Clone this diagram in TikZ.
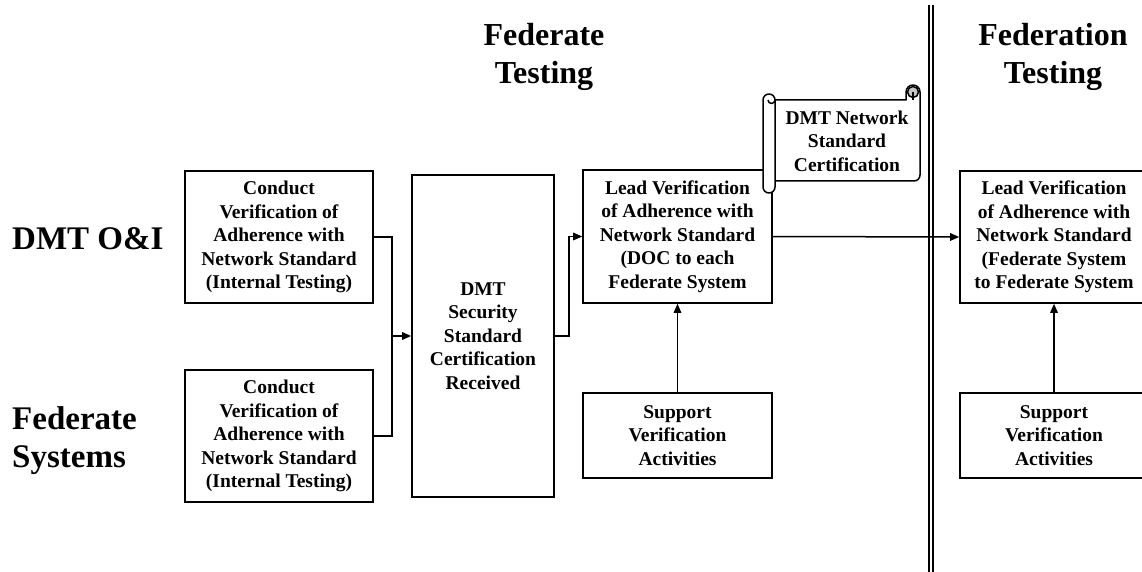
\documentclass[tikz,border=0pt]{standalone}
\usepackage{fontspec}
\setmainfont{Liberation Serif}
\usetikzlibrary{arrows.meta}
\begin{document}
\begin{tikzpicture}[x=1pt,y=-1pt,
  box/.style={draw, line width=1.6pt, inner sep=0pt, align=center, fill=white,
    font=\bfseries\fontsize{19.5}{23.5}\selectfont},
  boxtext/.style={inner sep=0pt, align=center, font=\bfseries\fontsize{19.5}{23.5}\selectfont},
  title/.style={inner sep=0pt, align=center, font=\bfseries\fontsize{32}{38}\selectfont},
  lane/.style={inner sep=0pt, align=left, font=\bfseries\fontsize{33}{38}\selectfont},
  conn/.style={line width=1.5pt, -{Triangle[length=9pt,width=7.5pt]}},
  link/.style={line width=1.5pt},
  scrollline/.style={line width=1.5pt, line join=round}]
\useasboundingbox (0,0) rectangle (1142,572);
\clip (0,0) rectangle (1142,572);

% titles
\node[title, anchor=base] (t1) at (544,84) {Federate\\Testing};
\node[title, anchor=base] (t2) at (1053,84) {Federation\\Testing};
\node[lane, anchor=base west] (l1) at (12,249) {DMT O\&I};
\node[lane, anchor=base west] (l2) at (12,467) {Federate\\Systems};

% separator
\coordinate (s1t) at (929,5); \coordinate (s1b) at (929,572);
\coordinate (s2t) at (933,5); \coordinate (s2b) at (933,572);
\draw[line width=1.3pt] (s1t) -- (s1b);
\draw[line width=1.3pt] (s2t) -- (s2b);

% boxes
\node[box, minimum width=188pt, minimum height=132pt] (a1) at (279,237)
  {Conduct\\Verification of\\Adherence with\\Network Standard\\(Internal Testing)};
\node[box, minimum width=188pt, minimum height=132pt] (a2) at (279,436)
  {Conduct\\Verification of\\Adherence with\\Network Standard\\(Internal Testing)};
\node[box, minimum width=142pt, minimum height=322pt] (b) at (483,336)
  {DMT\\Security\\Standard\\Certification\\Received};
\node[box, minimum width=189pt, minimum height=133pt] (c) at (677.5,236.5)
  {Lead Verification\\of Adherence with\\Network Standard\\(DOC to each\\Federate System};
\node[box, minimum width=189pt, minimum height=85pt] (d) at (677.5,435.5)
  {Support\\Verification\\Activities};
\node[box, minimum width=188pt, minimum height=132pt] (e) at (1054,237)
  {Lead Verification\\of Adherence with\\Network Standard\\(Federate System\\to Federate System};
\node[box, minimum width=188pt, minimum height=85pt] (f) at (1054,435.5)
  {Support\\Verification\\Activities};

% connectors
\coordinate (j1) at (392,336);
\draw[link] (a1.east) -| (j1);
\draw[link] (a2.east) -| (j1);
\draw[conn] (j1) -- (b.west);
\coordinate (j2) at (569,336);
\draw[conn] (b.east) -- (j2) |- (c.west);
\draw[conn] (c.east) -- (e.west);
\draw[conn] (d.north) -- (c.south);
\draw[conn] (f.north) -- (e.south);

% scroll
\draw[scrollline, fill=white] (775,100) -- (906,100) -- (906,92)
  arc[start angle=180, end angle=360, radius=7] -- (920,175)
  arc[start angle=0, end angle=90, radius=6] -- (775,181) -- cycle;
\draw[scrollline, fill=gray!45] (913,92) circle (5.5);
\draw[scrollline] (913,92) -- (913,100);
\draw[scrollline, fill=white] (763,100) -- (763,187)
  arc[start angle=180, end angle=0, radius=6] -- (775,100)
  arc[start angle=0, end angle=-180, radius=6] -- cycle;
\draw[scrollline] (775,100) arc[start angle=0, end angle=180, radius=3.5];
\node[boxtext] (sc) at (847,141) {DMT Network\\Standard\\Certification};
\end{tikzpicture}
\end{document}
